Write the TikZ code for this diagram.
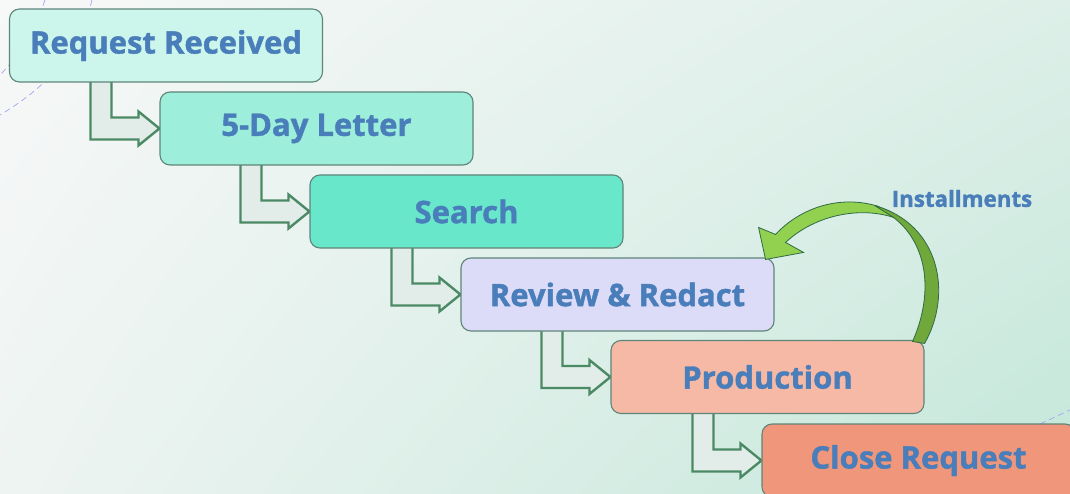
\documentclass[tikz,border=0pt]{standalone}
\usepackage{fontspec}
\setmainfont{Open Sans}[BoldFeatures={FakeBold=1.3}]
\usetikzlibrary{calc,shadings}
\definecolor{txt}{HTML}{4A7EBA}
\definecolor{boxline}{HTML}{5F8579}
\definecolor{cA}{HTML}{CCF6EC}
\definecolor{cB}{HTML}{9DEEDA}
\definecolor{cC}{HTML}{68E7CB}
\definecolor{cD}{HTML}{DCDCF8}
\definecolor{cE}{HTML}{F5B9A5}
\definecolor{cF}{HTML}{EF967B}
\definecolor{arrfill}{HTML}{E2EDE9}
\definecolor{arrline}{HTML}{4C8A66}
\definecolor{glight}{HTML}{92D050}
\definecolor{gdark}{HTML}{70A83C}
\definecolor{gline}{HTML}{2F6B45}
\definecolor{dashc}{HTML}{A4A4F2}
\definecolor{bgUL}{HTML}{F7F8F8}
\definecolor{bgUR}{HTML}{DDEFE8}
\definecolor{bgLL}{HTML}{EEF4F2}
\definecolor{bgLR}{HTML}{C3E7D9}
\pgfdeclarelayer{bg}
\pgfdeclarelayer{mid}
\pgfsetlayers{bg,mid,main}
\newcommand\bentarrow[2]{%
  \path[bent] let \p1=(#2.west), \p2=(#1.south) in
    (\x1-69pt,\y2+3pt) -- (\x1-69pt,\y1-11pt) -- (\x1-21pt,\y1-11pt) --
    (\x1-21pt,\y1-17pt) -- (\x1,\y1) -- (\x1-21pt,\y1+17pt) --
    (\x1-21pt,\y1+11pt) -- (\x1-48pt,\y1+11pt) -- (\x1-48pt,\y2+3pt) -- cycle;}
\begin{document}
\begin{tikzpicture}[x=1pt,y=-1pt,
  box/.style={draw=boxline, line width=1.1pt, rounded corners=10pt,
    minimum width=313pt, minimum height=73pt, inner sep=0pt,
    font=\bfseries\fontsize{31}{34}\selectfont, text=txt},
  bent/.style={draw=arrline, line width=2.4pt, fill=arrfill, line join=miter},
  bgdash/.style={draw=dashc, line width=0.7pt, dash pattern=on 6pt off 4pt}]
\useasboundingbox (0,0) rectangle (1070,494);
\clip (0,0) rectangle (1070,494);
\begin{pgfonlayer}{bg}
  \shade[upper left=bgUL, upper right=bgUR, lower left=bgLL, lower right=bgLR]
    (0,0) rectangle (1070,494);
  \draw[bgdash] (92,0) .. controls (80,50) and (50,85) .. (0,115);
  \draw[bgdash] (45,0) .. controls (35,30) and (20,55) .. (0,75);
  \draw[bgdash] (1040,424) -- (1072,409);
\end{pgfonlayer}

\node[box, fill=cA] (b1) at (166,45.5) {\raisebox{-2.5pt}{Request Received}};
\node[box, fill=cB] (b2) at (316.5,128.5) {\raisebox{-2.5pt}{5-Day Letter}};
\node[box, fill=cC] (b3) at (466.5,211.5) {\raisebox{-2.5pt}{Search}};
\node[box, fill=cD] (b4) at (617.5,294.5) {\raisebox{-2.5pt}{Review \& Redact}};
\node[box, fill=cE] (b5) at (767.5,377) {\raisebox{-2.5pt}{Production}};
\node[box, fill=cF] (b6) at (918.5,460.5) {\raisebox{-2.5pt}{Close Request}};

\begin{pgfonlayer}{mid}
  \bentarrow{b1}{b2}
  \bentarrow{b2}{b3}
  \bentarrow{b3}{b4}
  \bentarrow{b4}{b5}
  \bentarrow{b5}{b6}
\end{pgfonlayer}

% curved "Installments" arrow from Production back to Review & Redact
\begin{scope}[shift={(b4.north east)}]
  \fill[glight, draw=gline, line width=0.8pt, line join=miter]
    (104,-51) .. controls (66,-63) and (26,-50) .. (1,-23) -- (-16,-30) --
    (-9,2) -- (29,-5) -- (11,-15) .. controls (41,-43) and (86,-51) .. (119,-40) -- cycle;
  \fill[gdark, draw=gline, line width=0.8pt, line join=round]
    (150,86) .. controls (178,37) and (166,-33) .. (100,-52) -- (119,-40)
    .. controls (154,-13) and (159,37) .. (138,84) -- cycle;
\end{scope}
\node[font=\bfseries\fontsize{22.3}{26}\selectfont, text=txt] (inst) at (962,198.5) {Installments};
\end{tikzpicture}
\end{document}
